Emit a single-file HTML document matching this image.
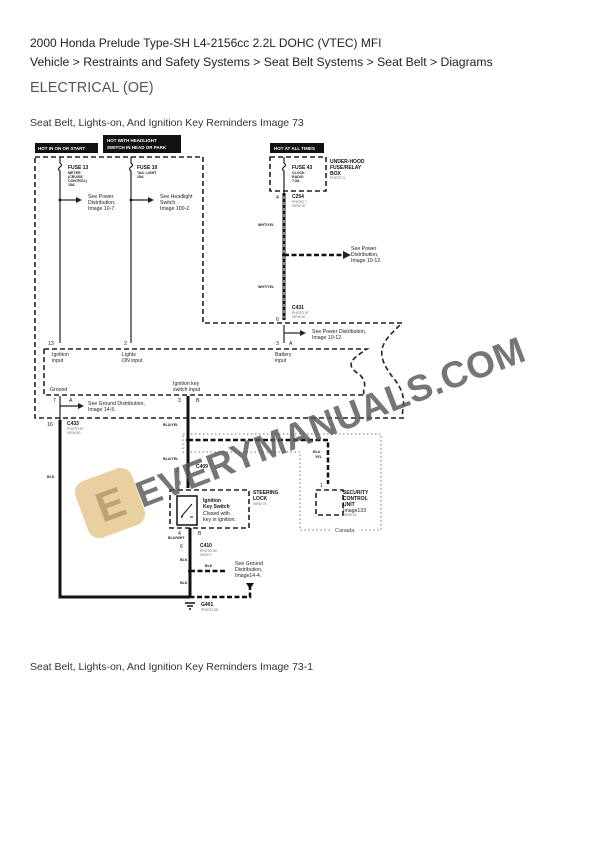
<!DOCTYPE html>
<html><head><meta charset="utf-8"><style>
html,body{margin:0;padding:0;background:#fff;width:612px;height:866px;overflow:hidden}
svg{display:block}
.t{font-family:"Liberation Sans",sans-serif}
</style></head><body>
<svg width="612" height="866" viewBox="0 0 612 866" xmlns="http://www.w3.org/2000/svg" class="t">
<text x="30" y="47" font-size="12" fill="#222">2000 Honda Prelude Type-SH L4-2156cc 2.2L DOHC (VTEC) MFI</text>
<text x="30" y="66" font-size="12.2" fill="#222">Vehicle &gt; Restraints and Safety Systems &gt; Seat Belt Systems &gt; Seat Belt &gt; Diagrams</text>
<text x="30" y="92" font-size="14.5" fill="#555">ELECTRICAL (OE)</text>
<text x="30" y="126" font-size="10.5" fill="#333">Seat Belt, Lights-on, And Ignition Key Reminders Image 73</text>
<text x="30" y="670" font-size="10.5" fill="#333">Seat Belt, Lights-on, And Ignition Key Reminders Image 73-1</text>

<g font-size="4.5" fill="#fff" font-weight="bold">
<rect x="35" y="143" width="63" height="10" fill="#111"/><text x="38" y="150">HOT IN ON OR START</text>
<rect x="103" y="135" width="78" height="18" fill="#111"/><text x="107" y="142">HOT WITH HEADLIGHT</text><text x="107" y="149">SWITCH IN HEAD OR PARK</text>
<rect x="270" y="143" width="54" height="10" fill="#111"/><text x="274" y="150">HOT AT ALL TIMES</text>
</g>

<g fill="none" stroke="#222" stroke-width="1.6" stroke-dasharray="5,3">
<path d="M35 157 H203 V323 H402 C385 340 370 350 395 380 C410 400 400 410 403 418 H35 Z"/>
<path d="M270 157 H326 V191 H270 Z"/>
<path d="M44 349 H367 C350 360 345 365 360 375 C370 385 360 392 365 395 H44 Z"/>
<path d="M170 490 H249 V528 H170 Z"/>
<path d="M316 490 H343 V515 H316 Z"/>
</g>
<g fill="none" stroke="#777" stroke-width="1" stroke-dasharray="1.5,2.5">
<path d="M183 434 H381 V530 H360 M330 530 H300 V452 H183 V434"/>
</g>
<text x="335" y="532" font-size="5.5" fill="#444">Canada</text>

<g stroke="#222" stroke-width="1.2" fill="none">
<path d="M60 157 V163 q3 2 0 4 q-3 2 0 4 V343"/>
<path d="M131 157 V163 q3 2 0 4 q-3 2 0 4 V343"/>
<path d="M284 157 V163 q3 2 0 4 q-3 2 0 4 V193"/>
<path d="M60 200 H76"/><path d="M131 200 H148"/>
<path d="M284 325 V343"/><path d="M284 333 H300"/>
<path d="M60 396 V420"/><path d="M60 406 H78"/>
</g>
<g fill="#222">
<circle cx="60" cy="200" r="1.5"/><circle cx="131" cy="200" r="1.5"/>
<path d="M76 197 l6 3 -6 3z"/><path d="M148 197 l6 3 -6 3z"/>
<path d="M300 330 l6 3 -6 3z"/><path d="M78 403 l6 3 -6 3z"/>
<circle cx="284" cy="255" r="2"/><circle cx="188" cy="440" r="2"/><circle cx="190" cy="571" r="2"/>
<path d="M343 251 l8 4 -8 4z"/>
</g>
<g stroke="#111" stroke-width="3" fill="none">
<path d="M284 193 V320"/>
<path d="M60 420 V597 H190"/>
<path d="M188 396 V488"/>
<path d="M190 528 V598"/>
</g>
<g stroke="#fff" stroke-width="1" stroke-dasharray="3,3" fill="none">
<path d="M284 196 V318"/>
</g>
<g stroke="#111" stroke-width="2.5" fill="none" stroke-dasharray="5,2.5">
<path d="M284 255 H343"/>
<path d="M188 440 H328 V484"/>
<path d="M190 571 H225"/>
<path d="M250 585 V597 H190"/>
</g>
<path d="M246 583 h8 l-4 6z" fill="#111"/>
<path d="M185 603 h10 M187 606 h6 M189 609 h2" stroke="#111" stroke-width="1.5"/>
<rect x="177" y="496" width="20" height="29" fill="none" stroke="#111" stroke-width="1.5"/>
<path d="M181 517 L192 504 M181 517 h2 M190 517 h3" stroke="#111" stroke-width="1"/>

<g font-size="5" font-weight="bold" fill="#111">
<text x="68" y="169">FUSE 13</text><text x="137" y="169">FUSE 10</text><text x="292" y="169">FUSE 43</text>
<text x="330" y="163">UNDER-HOOD</text><text x="330" y="169">FUSE/RELAY</text><text x="330" y="175">BOX</text>
<text x="292" y="198">C254</text><text x="292" y="309">C431</text><text x="67" y="425">C433</text>
<text x="196" y="468">C409</text><text x="200" y="547">C410</text><text x="201" y="606">G401</text>
<text x="203" y="502">Ignition</text><text x="203" y="508">Key Switch</text>
<text x="253" y="494">STEERING</text><text x="253" y="500">LOCK</text>
<text x="343" y="494">SECURITY</text><text x="343" y="500">CONTROL</text><text x="343" y="506">UNIT</text>
</g>
<g font-size="3.6" font-weight="bold" fill="#222">
<text x="68" y="174">METER</text><text x="68" y="178">(CRUISE</text><text x="68" y="182">CONTROL)</text><text x="68" y="186">15A</text>
<text x="137" y="174">TAIL LIGHT</text><text x="137" y="178">15A</text>
<text x="292" y="174">CLOCK</text><text x="292" y="178">RADIO</text><text x="292" y="182">7.5A</text>
<text x="258" y="226">WHT/YEL</text><text x="258" y="288">WHT/YEL</text>
<text x="163" y="426">BLU/YEL</text><text x="163" y="460">BLU/YEL</text><text x="313" y="453">BLU</text><text x="315" y="458">YEL</text>
<text x="168" y="539">BLU/WHT</text><text x="47" y="478">BLK</text><text x="180" y="561">BLK</text><text x="205" y="567">BLK</text><text x="180" y="584">BLK</text>
</g>
<g font-size="3.4" fill="#666">
<text x="330" y="179">PHOTO 3</text><text x="292" y="203">PHOTO 7</text><text x="292" y="207">VIEW 20</text>
<text x="292" y="314">PHOTO 57</text><text x="292" y="318">VIEW 40</text><text x="67" y="430">PHOTO 57</text><text x="67" y="434">VIEW 60</text>
<text x="253" y="505">VIEW 75</text><text x="343" y="516">VIEW 43</text><text x="200" y="552">PHOTO 60</text><text x="200" y="556">VIEW 1</text><text x="201" y="611">PHOTO 58</text>
</g>
<g font-size="5.2" fill="#222">
<text x="88" y="198">See Power</text><text x="88" y="204">Distribution,</text><text x="88" y="210">Image 10-7.</text>
<text x="160" y="198">See Headlight</text><text x="160" y="204">Switch,</text><text x="160" y="210">Image 100-2.</text>
<text x="351" y="250">See Power</text><text x="351" y="256">Distribution,</text><text x="351" y="262">Image 10-12.</text>
<text x="312" y="333">See Power Distribution,</text><text x="312" y="339">Image 10-12.</text>
<text x="88" y="405">See Ground Distribution,</text><text x="88" y="411">Image 14-5.</text>
<text x="235" y="565">See Ground</text><text x="235" y="571">Distribution,</text><text x="235" y="577">Image14-4.</text>
<text x="52" y="356">Ignition</text><text x="52" y="362">input</text>
<text x="122" y="356">Lights</text><text x="122" y="362">ON input</text>
<text x="275" y="356">Battery</text><text x="275" y="362">input</text>
<text x="50" y="391">Ground</text><text x="173" y="385">Ignition key</text><text x="173" y="391">switch input</text>
<text x="203" y="515">Closed with</text><text x="203" y="521">key in ignition.</text><text x="343" y="512">Image133</text>
<text x="48" y="345">13</text><text x="124" y="345">2</text><text x="276" y="345">3</text><text x="289" y="345">A</text>
<text x="276" y="199">4</text><text x="276" y="321">6</text>
<text x="53" y="402">7</text><text x="69" y="402">A</text><text x="178" y="402">3</text><text x="196" y="402">B</text>
<text x="47" y="426">16</text><text x="176" y="472">2</text><text x="178" y="485">3</text><text x="320" y="487">1</text>
<text x="178" y="535">4</text><text x="198" y="535">B</text><text x="180" y="548">6</text>
</g>

<g transform="translate(110 503) rotate(-20)" opacity="0.8">
<rect x="-30" y="-30" width="60" height="60" rx="12" fill="#e3c58a"/>
<text x="-14" y="16" font-size="42" font-weight="bold" fill="#b08a50">E</text>
</g>
<text transform="translate(142 508) rotate(-21)" font-size="37" font-weight="bold" fill="#555" opacity="0.8" letter-spacing="0.5">EVERYMANUALS.COM</text>
</svg>
</body></html>
